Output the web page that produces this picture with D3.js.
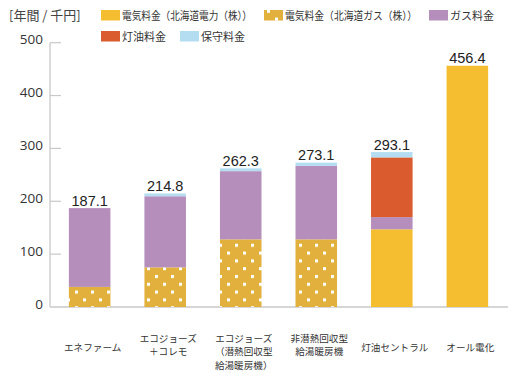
<!DOCTYPE html>
<html><head><meta charset="utf-8">
<script src="https://cdn.jsdelivr.net/npm/d3@7/dist/d3.min.js"></script>
<style>
body{margin:0;background:#fff;}
text{font-family:"Noto Sans CJK JP","Noto Sans",sans-serif;}
</style></head>
<body><svg id="c" width="515" height="380"></svg>
<script>
const categories = [["エネファーム"],["エコジョーズ","＋コレモ"],["エコジョーズ","（潜熱回収型","給湯暖房機）"],["非潜熱回収型","給湯暖房機"],["灯油セントラル"],["オール電化"]];
const elecHokuden = [0,0,0,0,147,456.4];
const elecGas = [38,75,128,128,0,0];
const gasFee = [149.1,134.5,129,139,23,0];
const keroseneFee = [0,0,0,0,113,0];
const maintFee = [0,5.3,5.3,6.1,10.1,0];
const totals = ["187.1","214.8","262.3","273.1","293.1","456.4"];
const yTicks = [0,100,200,300,400,500];
const seriesNames = ["電気料金（北海道電力（株））","電気料金（北海道ガス（株））","ガス料金","灯油料金","保守料金"];

const svg = d3.select("#c");
const defs = svg.append("defs");
const pat = defs.append("pattern").attr("id","dots").attr("patternUnits","userSpaceOnUse")
  .attr("width",16).attr("height",15.6);
pat.append("rect").attr("width",16).attr("height",15.6).attr("fill","#E2B03D");
pat.append("rect").attr("x",3).attr("y",2).attr("width",3).attr("height",3).attr("fill","#fff");
pat.append("rect").attr("x",11).attr("y",9.8).attr("width",3).attr("height",3).attr("fill","#fff");

const colors = ["#F5BD30","url(#dots)","#B68EBC","#D95B2E","#B5DDF1"];
const data = [elecHokuden, elecGas, gasFee, keroseneFee, maintFee];

const x = d3.scaleBand().domain(d3.range(categories.length)).range([50,507]).paddingInner(0.45).paddingOuter(0.25);
const y = d3.scaleLinear().domain([0,500]).range([307,42.7]);

// axes
svg.append("line").attr("x1",50).attr("x2",50).attr("y1",y(500)).attr("y2",y(0)).attr("stroke","#c8c8c8").attr("stroke-width",1.3);
svg.append("line").attr("x1",50).attr("x2",508).attr("y1",y(0)).attr("y2",y(0)).attr("stroke","#c8c8c8").attr("stroke-width",1.3);
yTicks.forEach(t=>{
  if(t>0) svg.append("line").attr("x1",50).attr("x2",61).attr("y1",y(t)).attr("y2",y(t)).attr("stroke","#c8c8c8").attr("stroke-width",1.2);
  svg.append("text").attr("x",43).attr("y",y(t)+1.5).attr("text-anchor","end").attr("font-size",13.5)
    .attr("fill","#333").style("font-family","'Open Sans',sans-serif").text(t);
});

// stacked bars
const stackKeys = d3.range(data.length);
const rows = categories.map((c,i)=>{const o={}; stackKeys.forEach(k=>o[k]=data[k][i]); return o;});
const stacked = d3.stack().keys(stackKeys)(rows);
stacked.forEach((layer,k)=>{
  svg.append("g").selectAll("rect").data(layer).join("rect")
    .attr("x",(d,i)=>x(i)).attr("width",x.bandwidth())
    .attr("y",d=>y(d[1])).attr("height",d=>Math.max(0,y(d[0])-y(d[1])))
    .attr("fill",colors[k]);
});

// totals
svg.append("g").selectAll("text").data(totals).join("text")
  .attr("x",(d,i)=>x(i)+x.bandwidth()/2).attr("y",(d,i)=>y(d3.sum(data,s=>s[i]))-2.5)
  .attr("text-anchor","middle").attr("font-size",14.5).attr("fill","#222")
  .style("font-family","'Liberation Sans',Arial,sans-serif").text(d=>d);

// category labels
categories.forEach((lines,i)=>{
  const cx = x(i)+x.bandwidth()/2+3;
  lines.forEach((ln,j)=>{
    const yy = lines.length===1 ? 351 : 342 + j*13.4;
    svg.append("text").attr("x",cx).attr("y",yy).attr("text-anchor","middle")
      .attr("font-size",9.6).attr("fill","#333").text(ln);
  });
});

// unit label
svg.append("text").attr("x",9).attr("y",20).attr("font-size",13).attr("fill","#444").text("[年間 / 千円]");

// legend
const legendPos = [[101,10],[264,10],[429,10],[101,31],[180,31]];
const legendLen = [130,132,null,null,null];
legendPos.forEach((p,k)=>{
  svg.append("rect").attr("x",p[0]).attr("y",p[1]).attr("width",19).attr("height",10.5).attr("fill",colors[k]);
  const t = svg.append("text").attr("x",p[0]+21).attr("y",p[1]+9.5).attr("font-size",11).attr("fill","#333").text(seriesNames[k]);
  if(legendLen[k]) t.attr("textLength",legendLen[k]).attr("lengthAdjust","spacingAndGlyphs");
});
</script></body></html>
